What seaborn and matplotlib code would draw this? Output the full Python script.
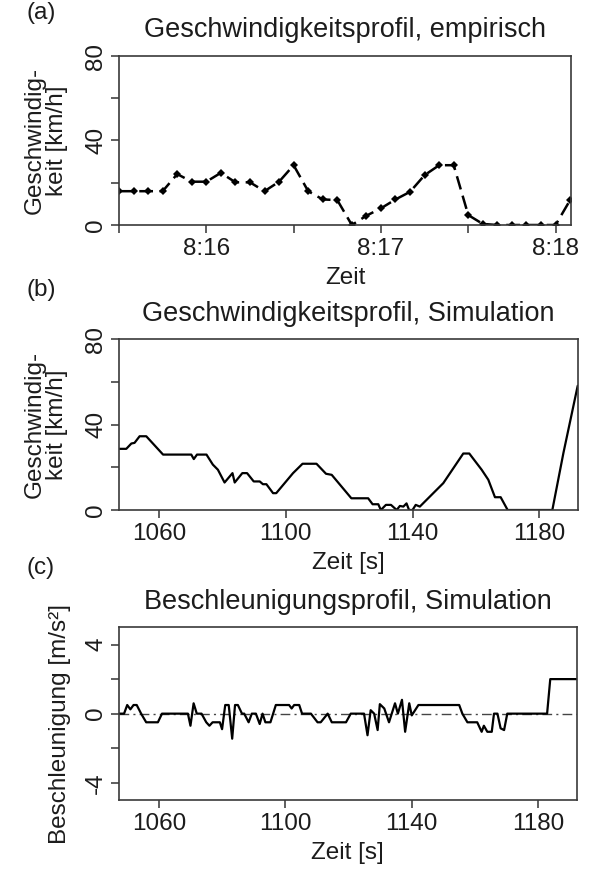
import matplotlib
matplotlib.use("Agg")
import matplotlib.pyplot as plt
from matplotlib.ticker import FixedLocator, NullFormatter
import pandas as pd
import seaborn as sns

# (a) measured speed, one reading every 5 s; time in seconds after 8:15:00
emp_time = [30, 35, 40, 45, 50, 55, 60, 65, 70, 75, 80, 85, 90, 95, 100, 105,
            110, 115, 120, 125, 130, 135, 140, 145, 150, 155, 160, 165, 170,
            175, 180, 185]
emp_speed = [16, 16, 16, 16, 24.1, 20.5, 20.5, 24.7, 20.2, 20.2, 16, 20.5,
             28.3, 16, 12.1, 11.8, 0, 4.4, 7.9, 12.1, 15.7, 23.6, 28.3, 28.3,
             4.7, 0.5, 0, 0, 0, 0, 0, 11.8]
emp_tick_pos = [60, 120, 180]
emp_tick_labels = ["8:16", "8:17", "8:18"]

# (b) simulated speed [km/h] over simulation time [s]
sim_time = [1047.4, 1049.7, 1051.3, 1052.3, 1053.9, 1056, 1061.3, 1070.2,
            1071, 1072, 1075, 1077, 1078.6, 1080.7, 1083.2, 1083.9, 1086.3,
            1087.8, 1089.9, 1091.8, 1092.8, 1093.9, 1096, 1097, 1102.3,
            1105.3, 1109.7, 1112.7, 1114.5, 1120.7, 1126, 1127.4, 1129.2,
            1130, 1131.6, 1133.2, 1135, 1136, 1137.1, 1138.1, 1138.9, 1140,
            1141, 1142.3, 1149.7, 1156, 1157.9, 1161.8, 1163.9, 1166, 1167.8,
            1170, 1184.1, 1187.6, 1192.1]
sim_speed = [28.7, 28.7, 31.2, 31.5, 34.6, 34.6, 26, 26,
             23.9, 26, 26, 21.3, 18.9, 12.9, 17.3, 12.9, 17.3,
             17.3, 13.4, 13.4, 12.1, 12.1, 7.9, 7.9, 17.3,
             21.7, 21.7, 17, 16.5, 5.5, 5.5, 2.7, 2.7,
             0, 2.4, 2.4, 0, 1.9, 1.6, 3.1, 0, 0,
             2.4, 1.6, 12.6, 26.5, 26.5, 18.9, 14.2, 6, 6,
             0, 0, 26.8, 58.3]

# (c) simulated acceleration [m/s^2]
acc_time = [1047.4, 1049, 1050, 1051, 1052, 1053, 1054.4, 1056, 1059.7, 1061,
            1069.2, 1070, 1071, 1072, 1073.5, 1075, 1076, 1077, 1079.3, 1080,
            1081, 1082.1, 1083.2, 1084.1, 1085, 1086.3, 1087, 1088.4, 1089.4,
            1090.7, 1091.9, 1092.8, 1093.7, 1095.3, 1097, 1101.2, 1102,
            1102.8, 1104.4, 1105.3, 1108.1, 1110.2, 1111.2, 1113.4, 1114.7,
            1119.2, 1120.7, 1124.9, 1126, 1127, 1128.1, 1129.2, 1129.9,
            1131.3, 1132.8, 1134.7, 1135.6, 1136.9, 1137.9, 1139.2, 1140,
            1142.1, 1155, 1156, 1157.6, 1160.7, 1162.1, 1162.8, 1163.9,
            1165.3, 1166, 1167.1, 1168.1, 1169.2, 1170.2, 1182.8, 1183.8,
            1192.5]
acc_value = [0, 0, 0.5, 0.25, 0.5, 0.5, 0, -0.5, -0.5, 0,
             0, -0.7, 0.6, 0, 0, -0.5, -0.7, -0.5, -0.5, -0.9,
             0.5, 0.5, -1.45, 0.5, 0.5, 0, 0, -0.5, 0,
             0, -0.6, 0, -0.5, -0.5, 0.5, 0.5, 0.3,
             0.5, 0.5, 0, 0, -0.5, -0.5, 0, -0.5,
             -0.5, 0, 0, -1.25, 0.2, 0, -0.95, 0.55,
             0.3, -0.5, 0.6, 0, 0.8, -1.05, 0.6, -0.1,
             0.5, 0.5, 0, -0.5, -0.5, -1.05, -0.7, -1.05,
             -1.05, 0, 0, -0.85, -0.95, 0, 0, 2,
             2]

sim_ticks = [1060, 1100, 1140, 1180]

sns.set_theme(style="ticks")
plt.rcParams["font.family"] = ["Liberation Sans", "DejaVu Sans"]
TXT = "#1c1c1c"
FS = 17.5
FS_TITLE = 19.5
plt.rcParams.update({
    "text.color": TXT, "axes.labelcolor": TXT,
    "xtick.color": "#333333", "ytick.color": "#333333",
    "xtick.labelcolor": TXT, "ytick.labelcolor": TXT,
    "axes.edgecolor": "#3a3a3a", "axes.linewidth": 1.2,
    "axes.unicode_minus": False,
})

fig = plt.figure(figsize=(5.89, 8.72), dpi=100)
W, H = 589, 872


def box(left, top, right, bottom):
    return [left / W, 1 - bottom / H, (right - left) / W, (bottom - top) / H]


ax_a = fig.add_axes(box(119, 56, 571, 225))
ax_b = fig.add_axes(box(119, 339.5, 577.7, 510))
ax_c = fig.add_axes(box(119, 627.3, 576.5, 800))

df_a = pd.DataFrame({"t": emp_time, "v": emp_speed})
df_b = pd.DataFrame({"t": sim_time, "v": sim_speed})
df_c = pd.DataFrame({"t": acc_time, "a": acc_value})

sns.lineplot(data=df_a, x="t", y="v", ax=ax_a, color="black", lw=1.8,
             linestyle=(0, (5.5, 2.6)), marker="D", markersize=4.5,
             markeredgewidth=0, estimator=None, sort=False)
sns.lineplot(data=df_b, x="t", y="v", ax=ax_b, color="black", lw=1.6,
             estimator=None, sort=False)
ax_c.axhline(0, color="#444444", lw=1.0, linestyle=(0, (7, 3, 1.5, 3)))
sns.lineplot(data=df_c, x="t", y="a", ax=ax_c, color="black", lw=1.6,
             estimator=None, sort=False)

ax_a.set_xlim(30, 185.3)
ax_a.xaxis.set_major_locator(FixedLocator(emp_tick_pos))
ax_a.set_xticklabels(emp_tick_labels)
ax_a.xaxis.set_minor_locator(FixedLocator([30, 90, 150]))

for ax in (ax_b, ax_c):
    ax.set_xlim(1047.4, 1192.1)
    ax.xaxis.set_major_locator(FixedLocator(sim_ticks))
    ax.set_xticklabels([str(v) for v in sim_ticks])

for ax in (ax_a, ax_b):
    ax.set_ylim(0, 80)
    ax.yaxis.set_major_locator(FixedLocator([0, 40, 80]))
    ax.yaxis.set_minor_locator(FixedLocator([20, 60]))
ax_c.set_ylim(-5, 5)
ax_c.yaxis.set_major_locator(FixedLocator([-4, 0, 4]))
ax_c.yaxis.set_minor_locator(FixedLocator([-2, 2]))

titles = ["Geschwindigkeitsprofil, empirisch",
          "Geschwindigkeitsprofil, Simulation",
          "Beschleunigungsprofil, Simulation"]
xlabels = ["Zeit", "Zeit [s]", "Zeit [s]"]
ylabels = ["Geschwindig-\nkeit [km/h]", "Geschwindig-\nkeit [km/h]",
           "Beschleunigung [m/s²]"]
ylab_x = [(68 - 119) / 452, (68 - 119) / 458.7, (71 - 119) / 457.5]
ylab_y = [0.5, 0.5, (800 - 724) / 172.7]

for ax, ttl, xl, yl, yx, yy in zip((ax_a, ax_b, ax_c), titles, xlabels,
                                   ylabels, ylab_x, ylab_y):
    for side in ("top", "right", "left", "bottom"):
        ax.spines[side].set_visible(True)
    ax.set_title(ttl, fontsize=FS_TITLE, pad=13.5, color=TXT)
    ax.set_xlabel(xl, fontsize=FS, labelpad=5)
    ax.set_ylabel(yl, fontsize=FS, ha="center", multialignment="center",
                  linespacing=1.0)
    ax.yaxis.set_label_coords(yx, yy)
    ax.tick_params(axis="both", which="both", direction="out", length=5.5,
                   width=1.1, labelsize=FS)
    ax.tick_params(axis="x", which="both", pad=4)
    ax.tick_params(axis="y", which="both", pad=3)
    ax.xaxis.set_minor_formatter(NullFormatter())
    ax.yaxis.set_minor_formatter(NullFormatter())
    for lab in ax.get_yticklabels():
        lab.set_rotation(90)
        lab.set_va("center")
    ax.grid(False)

for txt, y in (("(a)", 13), ("(b)", 290), ("(c)", 568)):
    fig.text(41 / W, 1 - y / H, txt, fontsize=FS, ha="center", va="center")

fig.savefig("out.png", dpi=100, facecolor="white")
